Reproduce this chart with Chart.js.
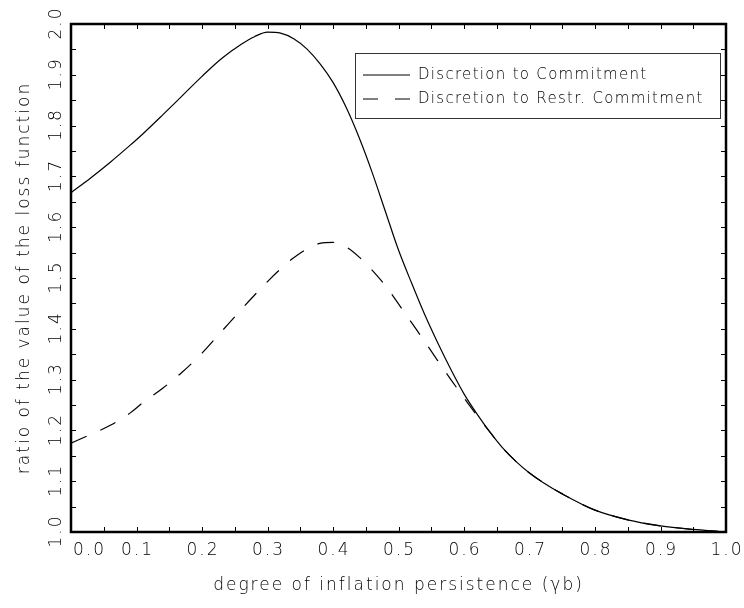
<!DOCTYPE html>
<html>
<head>
<meta charset="utf-8">
<script src="https://cdn.jsdelivr.net/npm/chart.js@4/dist/chart.umd.min.js"></script>
<style>
  body { margin: 0; background: #fff; }
  canvas { display: block; }
</style>
</head>
<body>
<canvas id="chart" width="744" height="608"></canvas>
<script>
// persistence grid (gamma b)
const persistence = [0, 0.03, 0.06, 0.09, 0.11, 0.14, 0.17, 0.2, 0.23, 0.26, 0.28, 0.3, 0.32, 0.34, 0.36,
    0.38, 0.4, 0.42, 0.44, 0.46, 0.48, 0.5, 0.52, 0.54, 0.56, 0.58, 0.6, 0.62, 0.64, 0.66, 0.68, 0.7,
    0.72, 0.75, 0.8, 0.85, 0.9, 0.95, 0.99];

const discToCommit = [1.668, 1.697, 1.728, 1.761, 1.784, 1.821, 1.859, 1.897, 1.932, 1.960, 1.975, 1.984,
    1.982, 1.971, 1.951, 1.922, 1.885, 1.836, 1.776, 1.707, 1.631, 1.555, 1.490, 1.428, 1.372, 1.320,
    1.272, 1.232, 1.196, 1.164, 1.138, 1.116, 1.098, 1.075, 1.043, 1.024, 1.012, 1.005, 1.001];

const discToRestr = [1.175, 1.192, 1.210, 1.234, 1.255, 1.283, 1.315, 1.352, 1.395, 1.438, 1.466, 1.493,
    1.518, 1.540, 1.557, 1.568, 1.570, 1.561, 1.541, 1.515, 1.485, 1.449, 1.412, 1.375, 1.337, 1.300,
    1.264, 1.229, 1.196, 1.164, 1.138, 1.116, 1.098, 1.075, 1.043, 1.024, 1.012, 1.005, 1.001];

const xTickLabels = ['0.0', '0.1', '0.2', '0.3', '0.4', '0.5', '0.6', '0.7', '0.8', '0.9', '1.0'];
const yTickLabels = ['1.0', '1.1', '1.2', '1.3', '1.4', '1.5', '1.6', '1.7', '1.8', '1.9', '2.0'];

const seriesNames = ['Discretion to Commitment', 'Discretion to Restr. Commitment'];
const xTitle = 'degree of inflation persistence (\u03b3b)';
const yTitle = 'ratio of the value of the loss function';

const FONT = '"DejaVu Sans", sans-serif';
const DASH = [17, 15];

const toPoints = (ys) => persistence.map((x, i) => ({ x, y: ys[i] }));

// box frame, inward ticks, labels, titles and the legend
const framePlugin = {
    id: 'frame',
    afterDraw(chart) {
        const { ctx, chartArea: a, scales: { x, y } } = chart;
        ctx.save();
        ctx.strokeStyle = '#000';
        ctx.fillStyle = '#000';

        // inward ticks every 0.05 on all four sides
        ctx.lineWidth = 1;
        ctx.beginPath();
        for (let i = 1; i < 20; i++) {
            const px = Math.round(x.getPixelForValue(i * 0.05)) + 0.5;
            ctx.moveTo(px, a.bottom); ctx.lineTo(px, a.bottom - 5);
            ctx.moveTo(px, a.top); ctx.lineTo(px, a.top + 5);
            const py = Math.round(y.getPixelForValue(1 + i * 0.05)) + 0.5;
            ctx.moveTo(a.left, py); ctx.lineTo(a.left + 5, py);
            ctx.moveTo(a.right, py); ctx.lineTo(a.right - 5, py);
        }
        ctx.stroke();

        ctx.lineWidth = 2.5;
        ctx.strokeRect(a.left, a.top, a.right - a.left, a.bottom - a.top);

        // tick labels
        ctx.font = `200 17px ${FONT}`;
        ctx.letterSpacing = '2px';
        ctx.textBaseline = 'middle';
        xTickLabels.forEach((t, i) => {
            const px = x.getPixelForValue(i / 10);
            if (i === 0) {
                ctx.textAlign = 'left';
                ctx.fillText(t, px + 2, 551);
            } else {
                ctx.textAlign = 'center';
                ctx.fillText(t, px + 1, 551);
            }
        });
        yTickLabels.forEach((t, i) => {
            const py = y.getPixelForValue(1 + i / 10);
            ctx.save();
            ctx.translate(57, py);
            ctx.rotate(-Math.PI / 2);
            ctx.textAlign = 'center';
            ctx.fillText(t, 1, 0);
            ctx.restore();
        });

        // axis titles
        ctx.textAlign = 'center';
        ctx.fillText(xTitle, (a.left + a.right) / 2, 586);
        ctx.save();
        ctx.translate(25, (a.top + a.bottom) / 2);
        ctx.rotate(-Math.PI / 2);
        ctx.fillText(yTitle, 0, 0);
        ctx.restore();

        // legend
        ctx.lineWidth = 1;
        ctx.strokeStyle = '#333';
        ctx.strokeRect(355.5, 53.5, 365, 65);
        ctx.font = `200 15px ${FONT}`;
        ctx.letterSpacing = '1.3px';
        ctx.textAlign = 'left';
        [75, 99].forEach((ly, i) => {
            ctx.strokeStyle = '#000';
            ctx.lineWidth = 1.2;
            ctx.setLineDash(i === 0 ? [] : [15, 17]);
            ctx.beginPath();
            ctx.moveTo(363, ly); ctx.lineTo(410, ly);
            ctx.stroke();
            ctx.setLineDash([]);
            ctx.fillText(seriesNames[i], 418, ly);
        });
        ctx.restore();
    },
};

new Chart(document.getElementById('chart'), {
    type: 'line',
    data: {
        datasets: [
            {
                label: seriesNames[0],
                data: toPoints(discToCommit),
                borderColor: '#000',
                borderWidth: 1.2,
                pointRadius: 0,
                cubicInterpolationMode: 'monotone',
                fill: false,
            },
            {
                label: seriesNames[1],
                data: toPoints(discToRestr),
                borderColor: '#000',
                borderWidth: 1.2,
                borderDash: DASH,
                pointRadius: 0,
                cubicInterpolationMode: 'monotone',
                fill: false,
            },
        ],
    },
    options: {
        responsive: false,
        animation: false,
        layout: { padding: { left: 71, top: 24, right: 18, bottom: 76 } },
        plugins: { legend: { display: false }, tooltip: { enabled: false } },
        scales: {
            x: { type: 'linear', min: 0, max: 1, display: false },
            y: { type: 'linear', min: 1, max: 2, display: false },
        },
    },
    plugins: [framePlugin],
});
</script>
</body>
</html>
